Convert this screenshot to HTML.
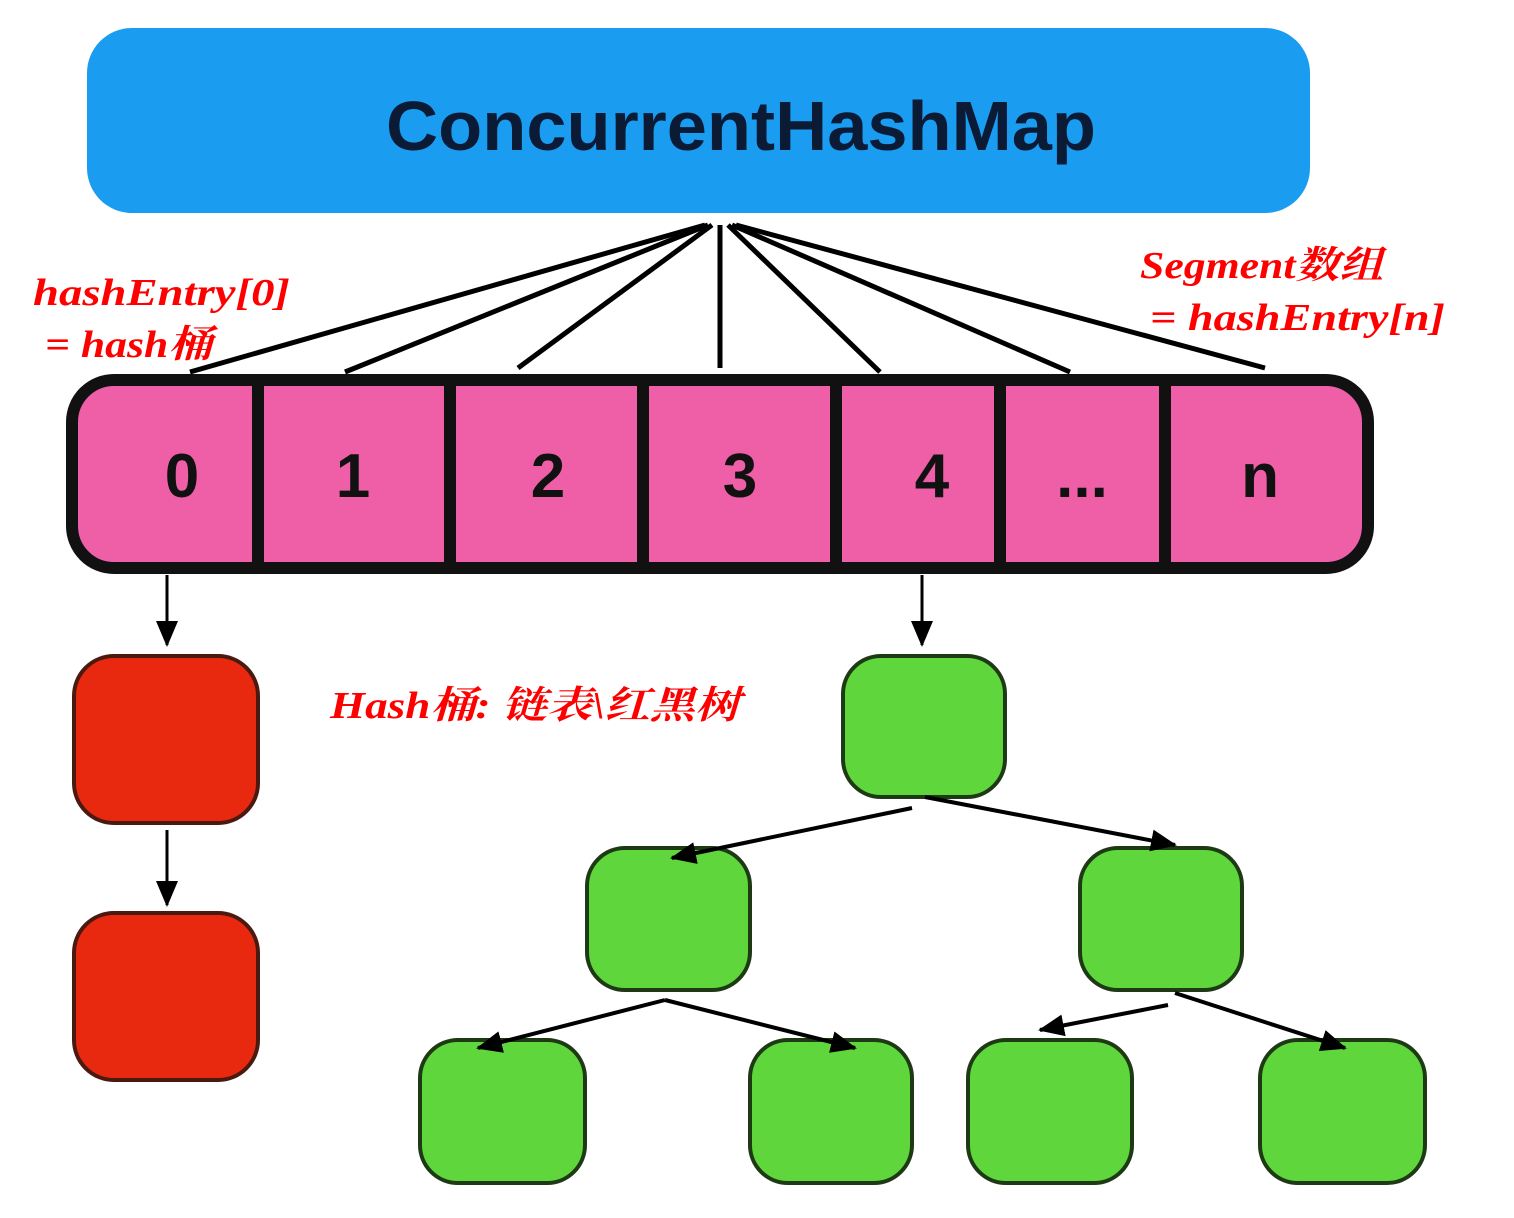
<!DOCTYPE html>
<html><head><meta charset="utf-8"><style>
html,body{margin:0;padding:0;background:#fff;}
svg{display:block;}
.red{font-family:"Liberation Serif","Noto Serif CJK SC","Noto Sans CJK SC",serif;font-style:italic;font-weight:bold;fill:#f00;font-size:38px;}
.num{font-family:"Liberation Sans",sans-serif;font-weight:bold;font-size:62px;fill:#111;text-anchor:middle;}
</style></head><body>
<svg width="1514" height="1218" viewBox="0 0 1514 1218" xmlns="http://www.w3.org/2000/svg">
<defs>
<marker id="ah2" markerWidth="26" markerHeight="22" refX="24" refY="11" orient="auto" markerUnits="userSpaceOnUse" viewBox="0 0 26 22">
<path d="M0,0 L26,11 L0,22 z" fill="#000"/></marker>
</defs>
<rect x="87" y="28" width="1223" height="185" rx="45" fill="#1a9cf0"/>
<text x="386" y="150" textLength="710" lengthAdjust="spacingAndGlyphs" font-family="Liberation Sans,sans-serif" font-weight="bold" font-size="70" fill="#0b1a35">ConcurrentHashMap</text>
<g stroke="#000" stroke-width="5" fill="none">
<line x1="705" y1="225" x2="190" y2="372"/>
<line x1="708" y1="225" x2="345" y2="372"/>
<line x1="712" y1="225" x2="518" y2="368"/>
<line x1="720" y1="225" x2="720" y2="368"/>
<line x1="728" y1="225" x2="880" y2="372"/>
<line x1="732" y1="225" x2="1070" y2="372"/>
<line x1="736" y1="225" x2="1265" y2="368"/>
</g>
<rect x="72" y="380" width="1296" height="188" rx="42" fill="#ee5fa7" stroke="#111" stroke-width="12"/>
<g stroke="#111" stroke-width="12">
<line x1="258" y1="380" x2="258" y2="568"/>
<line x1="450" y1="380" x2="450" y2="568"/>
<line x1="643" y1="380" x2="643" y2="568"/>
<line x1="836" y1="380" x2="836" y2="568"/>
<line x1="1000" y1="380" x2="1000" y2="568"/>
<line x1="1165" y1="380" x2="1165" y2="568"/>
</g>
<text class="num" x="182" y="497">0</text>
<text class="num" x="353" y="497">1</text>
<text class="num" x="548" y="497">2</text>
<text class="num" x="740" y="497">3</text>
<text class="num" x="932" y="497">4</text>
<text class="num" x="1082" y="497">...</text>
<text class="num" x="1260" y="497">n</text>
<g stroke="#000" stroke-width="3">
<line x1="167" y1="575" x2="167" y2="645" marker-end="url(#ah2)"/>
<line x1="922" y1="575" x2="922" y2="645" marker-end="url(#ah2)"/>
<line x1="167" y1="830" x2="167" y2="905" marker-end="url(#ah2)"/>
</g>
<g fill="#e8290f" stroke="#4a1a10" stroke-width="4">
<rect x="74" y="656" width="184" height="167" rx="40"/>
<rect x="74" y="913" width="184" height="167" rx="40"/>
</g>
<g fill="#5fd63c" stroke="#1d3a14" stroke-width="4">
<rect x="843" y="656" width="162" height="141" rx="38"/>
<rect x="587" y="848" width="163" height="142" rx="38"/>
<rect x="1080" y="848" width="162" height="142" rx="38"/>
<rect x="420" y="1040" width="165" height="143" rx="38"/>
<rect x="750" y="1040" width="162" height="143" rx="38"/>
<rect x="968" y="1040" width="164" height="143" rx="38"/>
<rect x="1260" y="1040" width="165" height="143" rx="38"/>
</g>
<g stroke="#000" stroke-width="4">
<line x1="912" y1="808" x2="672" y2="858" marker-end="url(#ah2)"/>
<line x1="925" y1="797" x2="1175" y2="845" marker-end="url(#ah2)"/>
<line x1="665" y1="1000" x2="478" y2="1048" marker-end="url(#ah2)"/>
<line x1="665" y1="1000" x2="855" y2="1048" marker-end="url(#ah2)"/>
<line x1="1168" y1="1005" x2="1040" y2="1030" marker-end="url(#ah2)"/>
<line x1="1175" y1="993" x2="1345" y2="1048" marker-end="url(#ah2)"/>
</g>
<text class="red" x="33" y="305" textLength="257" lengthAdjust="spacingAndGlyphs">hashEntry[0]</text>
<text class="red" x="45" y="357" textLength="167" lengthAdjust="spacingAndGlyphs">= hash桶</text>
<text class="red" x="1140" y="278" textLength="243" lengthAdjust="spacingAndGlyphs">Segment数组</text>
<text class="red" x="1150" y="330" textLength="295" lengthAdjust="spacingAndGlyphs">= hashEntry[n]</text>
<text class="red" x="330" y="718" textLength="410" lengthAdjust="spacingAndGlyphs">Hash桶: 链表\红黑树</text>
</svg>
</body></html>
